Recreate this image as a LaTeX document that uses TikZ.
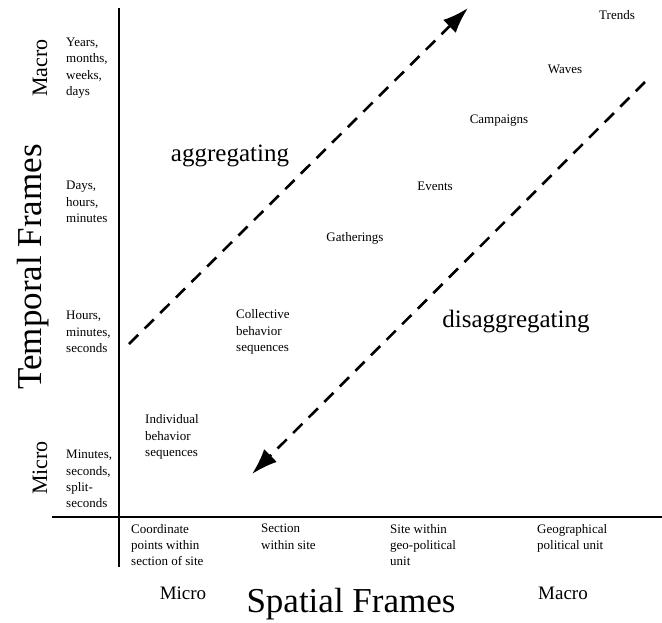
\documentclass[tikz,border=0pt]{standalone}
\usepackage{fontspec}
\setmainfont{Liberation Serif}
\usetikzlibrary{positioning,arrows.meta}

\begin{document}
\begin{tikzpicture}[
    x=1pt, y=-1pt,
    >={Latex[length=26pt,width=18pt]},
    small/.style={font=\fontsize{13}{16.3}\selectfont, align=left, inner sep=0pt},
    endlabel/.style={font=\fontsize{19}{22}\selectfont, inner sep=0pt},
    big/.style={font=\fontsize{25}{28}\selectfont, inner sep=0pt},
    trend/.style={line width=2.6pt, dash pattern=on 13pt off 9pt}
]
\useasboundingbox (0,0) rectangle (662,622);

% axes
\coordinate (ytop) at (119,8);
\coordinate (ybot) at (119,567);
\coordinate (xleft) at (52,517);
\coordinate (xright) at (662,517);
\draw[line width=1.2pt] (ytop) -- (ybot);
\draw[line width=1.2pt] (xleft) -- (xright);

% temporal axis
\node[rotate=90, font=\fontsize{22}{24}\selectfont, inner sep=0pt] (tmacro) at (40,68) {Macro};
\node[rotate=90, font=\fontsize{35}{38}\selectfont, inner sep=0pt] (tframes) at (33,267) {Temporal Frames};
\node[rotate=90, font=\fontsize{22}{24}\selectfont, inner sep=0pt] (tmicro) at (40,468) {Micro};

\node[small, anchor=west] (years) at (66,68) {Years,\\months,\\weeks,\\days};
\node[small, anchor=west] (days) at (66,202) {Days,\\hours,\\minutes};
\node[small, anchor=west] (hours) at (66,332) {Hours,\\minutes,\\seconds};
\node[small, anchor=west] (minutes) at (66,479) {Minutes,\\seconds,\\split-\\seconds};

% spatial axis
\node[small, anchor=north west] (coord) at (131,524) {Coordinate\\points within\\section of site};
\node[small, anchor=north west] (section) at (261,524) {Section\\within site};
\node[small, anchor=north west] (sitegeo) at (390,524) {Site within\\geo-political\\unit};
\node[small, anchor=north west] (geo) at (537,524) {Geographical\\political unit};

\node[endlabel] (smicro) at (183,593) {Micro};
\node[font=\fontsize{35}{38}\selectfont, inner sep=0pt] (sframes) at (351,604) {Spatial Frames};
\node[endlabel] (smacro) at (563,593) {Macro};

% phenomena
\node[small] (trends) at (617,15) {Trends};
\node[small] (waves) at (565,69) {Waves};
\node[small] (campaigns) at (499,121) {Campaigns};
\node[small] (events) at (435,186) {Events};
\node[small] (gatherings) at (355,238) {Gatherings};
\node[small, anchor=west] (collective) at (236,332) {Collective\\behavior\\sequences};
\node[small, anchor=west] (individual) at (145,437) {Individual\\behavior\\sequences};

% directions
\node[big] (agg) at (230,156) {aggregating};
\node[big] (disagg) at (516,322) {disaggregating};

\coordinate (aggstart) at (129,344);
\coordinate (aggend) at (468,8);
\coordinate (disstart) at (645,82);
\coordinate (disend) at (252,474);
\draw[trend, ->] (aggstart) -- (aggend);
\draw[trend, ->] (disstart) -- (disend);
\end{tikzpicture}
\end{document}
